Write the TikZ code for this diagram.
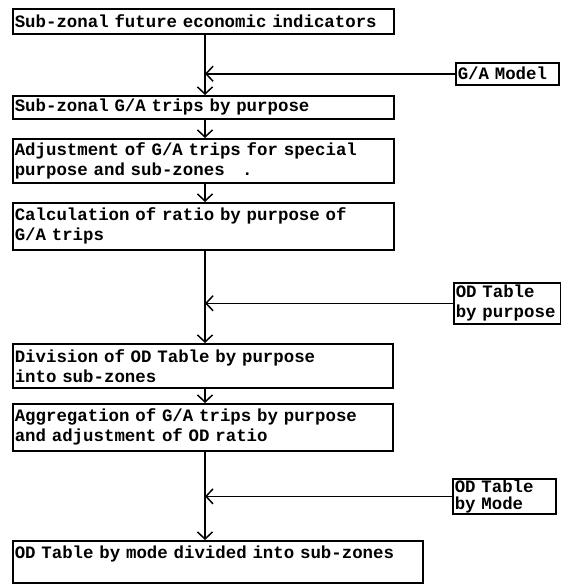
\documentclass[tikz,border=0pt]{standalone}
\usepackage{fontspec}
\setmonofont{Liberation Mono}
\usetikzlibrary{arrows.meta}
\begin{document}
\begin{tikzpicture}[x=1pt,y=-1pt,
  box/.style={draw, line width=1.5pt, anchor=north west, inner xsep=2pt, inner ysep=1pt, align=left,
    font=\ttfamily\bfseries\fontsize{17.4}{20}\selectfont},
  arr/.style={line width=1.5pt, -{Straight Barb[length=7pt,width=15pt,line width=1.5pt]}}]
\useasboundingbox (0,0) rectangle (561,584);
\coordinate (ax) at (205,0);
\node[box, minimum width=381, minimum height=25, text width=377] (b1) at (12,8) {Sub-zonal future economic indicators};
\node[box, minimum width=103, minimum height=22, text width=99] (ga) at (455,62) {G/A Model};
\node[box, minimum width=381, minimum height=23, text width=377] (b2) at (12,95) {Sub-zonal G/A trips by purpose};
\node[box, minimum width=381, minimum height=44, text width=377] (b3) at (12,138) {Adjustment of G/A trips for special\\purpose and sub-zones~~~.};
\node[box, minimum width=381, minimum height=47, text width=377] (b4) at (12,202) {Calculation of ratio by purpose of\\G/A trips};
\node[box, minimum width=107, minimum height=41, text width=103] (odp) at (453,282) {OD Table\\by purpose};
\node[box, minimum width=380, minimum height=44, text width=376] (b5) at (12,343) {Division of OD Table by purpose\\into sub-zones};
\node[box, minimum width=380, minimum height=47, text width=376] (b6) at (12,403) {Aggregation of G/A trips by purpose\\and adjustment of OD ratio};
\node[box, minimum width=103, minimum height=33, text width=99, font=\ttfamily\bfseries\fontsize{17.4}{17}\selectfont] (odm) at (452,478) {OD Table\\by Mode};
\node[box, minimum width=410, minimum height=42, text width=406] (b7) at (12,540) {OD Table by mode divided into sub-zones\\\mbox{}};
\draw[arr] (b1.south -| ax) -- (b2.north -| ax);
\draw[arr] (ga.west) -- (ga.west -| ax);
\draw[arr] (b2.south -| ax) -- (b3.north -| ax);
\draw[arr] (b3.south -| ax) -- (b4.north -| ax);
\draw[arr] (b4.south -| ax) -- (b5.north -| ax);
\draw[arr] (odp.west) -- (odp.west -| ax);
\draw[arr] (b5.south -| ax) -- (b6.north -| ax);
\draw[arr] (b6.south -| ax) -- (b7.north -| ax);
\draw[arr] (odm.west) -- (odm.west -| ax);
\end{tikzpicture}
\end{document}
